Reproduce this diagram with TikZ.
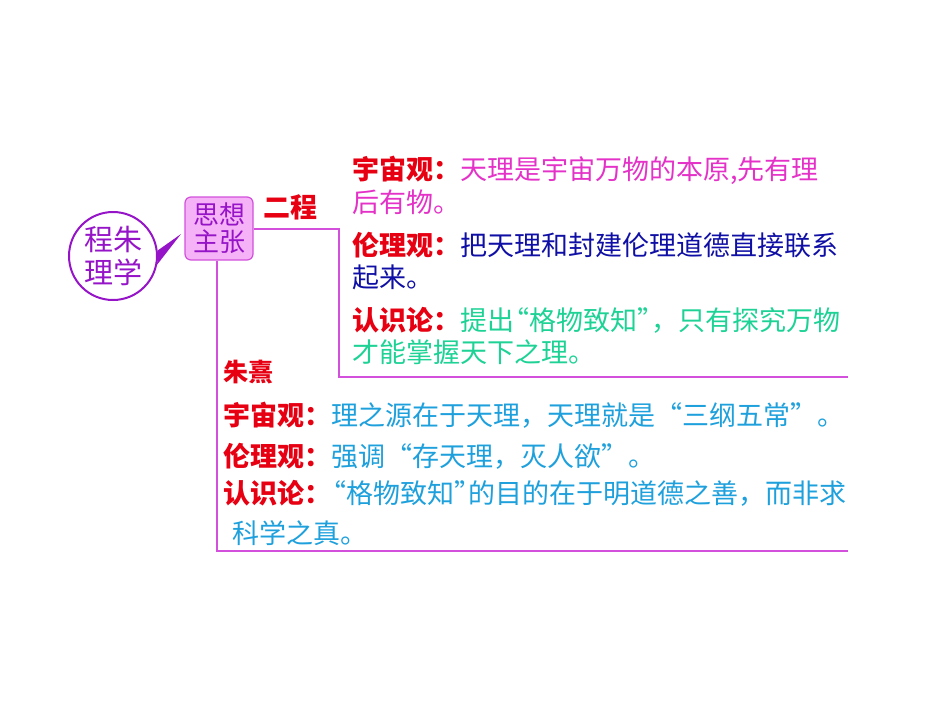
\documentclass[tikz,border=0pt]{standalone}
\usepackage{fontspec}
\setmainfont{Noto Sans CJK SC}
\definecolor{labred}{RGB}{230,0,18}
\definecolor{cosmo}{RGB}{228,50,200}
\definecolor{ethic}{RGB}{15,15,165}
\definecolor{episte}{RGB}{30,210,150}
\definecolor{zhuxi}{RGB}{30,160,220}
\definecolor{circpurple}{RGB}{150,20,200}
\definecolor{branchline}{RGB}{210,80,220}
\definecolor{boxfill}{RGB}{246,178,246}
\newcommand\lbl[1]{\textcolor{labred}{\bfseries #1}}
\newcommand\oqt{\kern-.45em“}
\newcommand\cqt{”\kern-.45em}
\tikzset{
  txt/.style={anchor=west, inner sep=0pt, font=\fontsize{27}{30}\selectfont},
  branch/.style={draw=branchline, line width=2pt}
}
\begin{document}
\begin{tikzpicture}[x=1pt,y=-1pt]
    \useasboundingbox (0,0) rectangle (950,713);
    \node[circle, draw=circpurple, line width=2pt, minimum size=88, inner sep=0pt, text=circpurple,
      align=center, font=\fontsize{29}{33}\selectfont] (lixue) at (113,256) {程朱\\理学};
    \node[draw=branchline, fill=boxfill, rounded corners=6, line width=1.2pt, minimum width=68,
      minimum height=63, inner sep=0pt, text=circpurple, align=center,
      font=\fontsize{26}{27}\selectfont] (zhuzhang) at (219,228.5) {思想\\主张};
    \coordinate (tip) at (181,234);
    \fill[circpurple] (lixue.7) -- (tip) -- (lixue.-11) -- cycle;
    \coordinate (erend) at (848,377); \coordinate (xiend) at (848,551);
    \draw[branch] (zhuzhang.east) -- ++(85,0) |- (erend);
    \draw[branch] ([xshift=-2pt]zhuzhang.south) |- (xiend);
    \node[txt, text=labred, font=\fontsize{27}{30}\selectfont\bfseries] (ercheng) at (263,207) {二程};
    \node[txt, text=cosmo] (erA) at (352,170) {\lbl{宇宙观：}天理是宇宙万物的本原,先有理};
    \node[txt, text=cosmo] (erAb) at (352,202) {后有物。};
    \node[txt, text=ethic] (erB) at (352,245) {\lbl{伦理观：}把天理和封建伦理道德直接联系};
    \node[txt, text=ethic] (erBb) at (352,277) {起来。};
    \node[txt, text=episte] (erC) at (352,320) {\lbl{认识论：}提出\oqt 格物致知\cqt ，只有探究万物};
    \node[txt, text=episte] (erCb) at (352,352) {才能掌握天下之理。};
    \node[txt, text=labred, font=\fontsize{25}{28}\selectfont\bfseries] (zhuxiname) at (223,372) {朱熹};
    \node[txt, text=zhuxi] (xiA) at (223,415) {\lbl{宇宙观：}理之源在于天理，天理就是“三纲五常”。};
    \node[txt, text=zhuxi] (xiB) at (223,456) {\lbl{伦理观：}强调“存天理，灭人欲”。};
    \node[txt, text=zhuxi] (xiC) at (223,493) {\lbl{认识论：}\oqt 格物致知\cqt 的目的在于明道德之善，而非求};
    \node[txt, text=zhuxi] (xiCb) at (232,533) {科学之真。};
  \end{tikzpicture}
\end{document}
